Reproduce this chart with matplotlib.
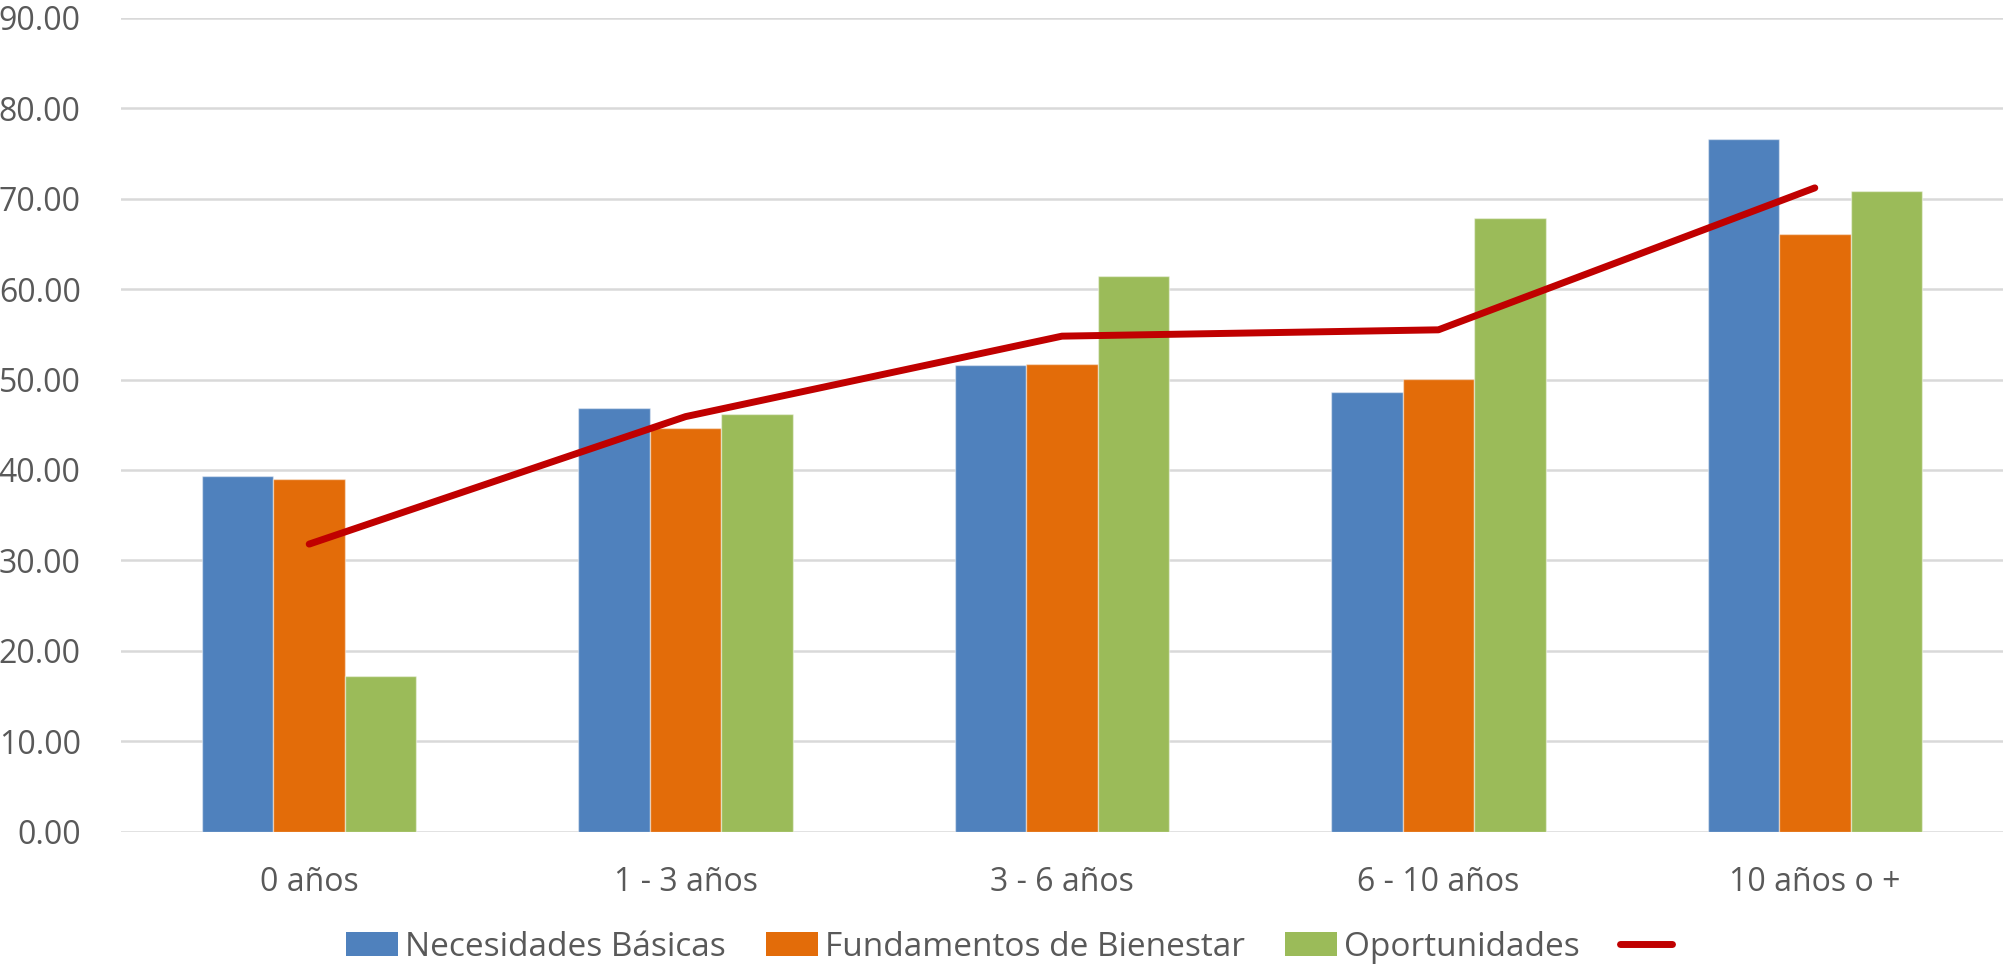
import numpy as np
import matplotlib
matplotlib.use("Agg")
import matplotlib.pyplot as plt
from matplotlib.patches import Patch
from matplotlib.lines import Line2D

# data
categorias = ['0 años', '1 - 3 años', '3 - 6 años', '6 - 10 años', '10 años o +']
necesidades = [39.3, 46.8, 51.6, 48.6, 76.6]
fundamentos = [39.0, 44.6, 51.7, 50.1, 66.1]
oportunidades = [17.2, 46.2, 61.4, 67.9, 70.8]
promedio = [31.8, 45.9, 54.8, 55.5, 71.2]
series_names = ['Necesidades Básicas', 'Fundamentos de Bienestar', 'Oportunidades']
y_ticks = [0, 10, 20, 30, 40, 50, 60, 70, 80, 90]

colors = ['#4F81BD', '#E36C09', '#9BBB59']
line_color = '#C00000'
text_color = '#595959'
grid_color = '#D9D9D9'

plt.rcParams['font.family'] = ['Open Sans', 'DejaVu Sans']

fig = plt.figure(figsize=(20.03, 9.66), dpi=100)
ax = fig.add_axes([121/2003, 134.4/966, 1 - 121/2003, (948.1 - 134.4)/966])

x = np.arange(len(categorias))
w = 0.19
for i, vals in enumerate([necesidades, fundamentos, oportunidades]):
    ax.bar(x + (i - 1) * w, vals, width=w, color=colors[i],
           edgecolor=(1, 1, 1, 0.45), linewidth=1.0, zorder=2)

ax.plot(x, promedio, color=line_color, lw=5, solid_capstyle='round',
        solid_joinstyle='round', zorder=3)

ax.set_xlim(-0.5, len(categorias) - 0.5)
ax.set_ylim(0, 90)
ax.set_yticks(y_ticks)
ax.set_yticklabels(['%.2f' % v for v in y_ticks])
ax.set_xticks(x)
ax.set_xticklabels(categorias)
ax.yaxis.grid(True, color=grid_color, lw=1.8, zorder=0)
ax.set_axisbelow(True)
for s in ax.spines.values():
    s.set_visible(False)
ax.tick_params(axis='both', length=0, labelsize=23, colors=text_color)
ax.tick_params(axis='y', pad=29)
ax.tick_params(axis='x', pad=25)

handles = [Patch(facecolor=c) for c in colors]
handles.append(Line2D([0], [0], color=line_color, lw=5, solid_capstyle='round'))
leg = fig.legend(handles, series_names + [''], loc='center',
                 bbox_to_anchor=(0.5055, 19/966), ncol=4, frameon=False,
                 prop={'size': 24},
                 handlelength=1.56, handleheight=0.75, handletextpad=0.2,
                 columnspacing=1.22, borderaxespad=0)
for t in leg.get_texts():
    t.set_color(text_color)

plt.savefig('out.png', dpi=100)
